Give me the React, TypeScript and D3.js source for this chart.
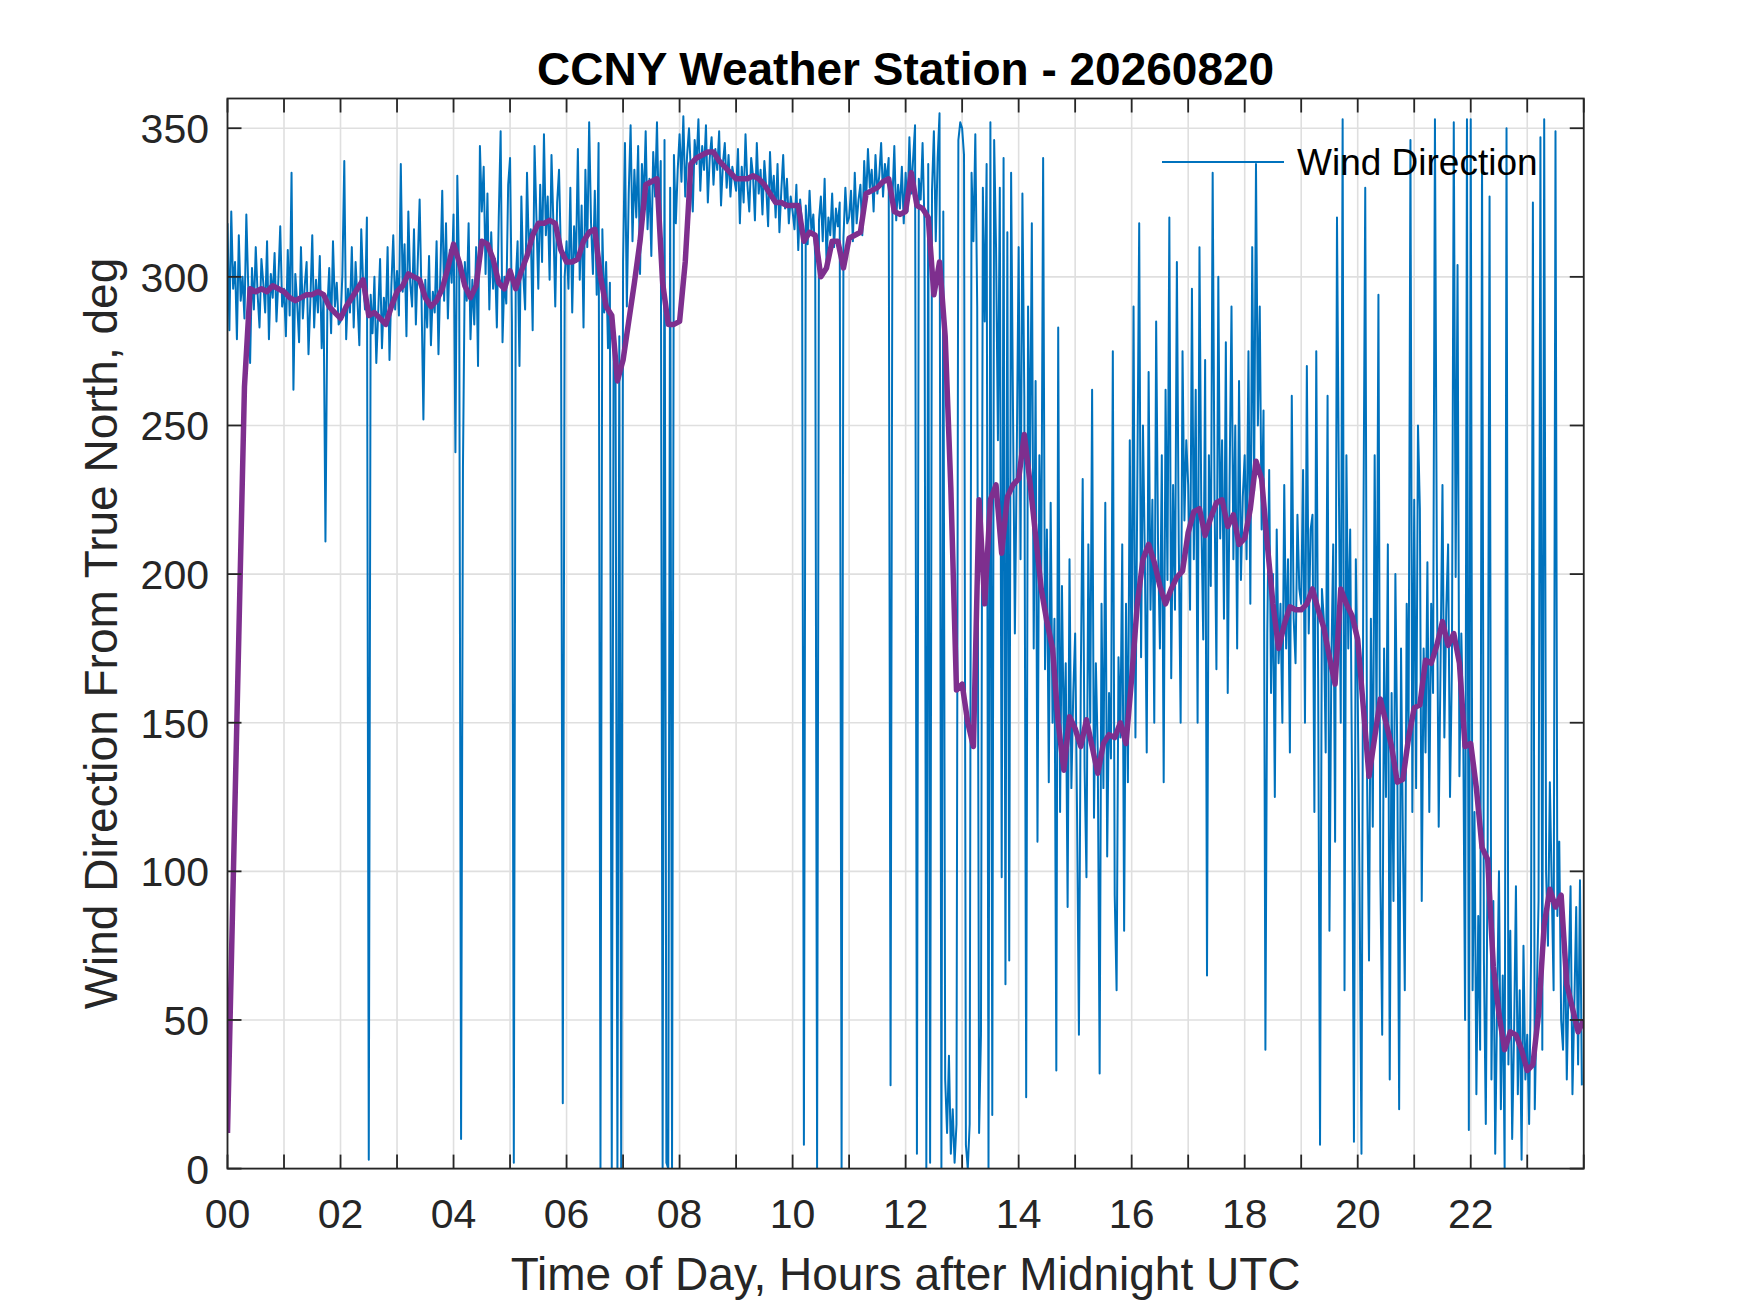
import * as d3 from "d3"

// Wind direction, one reading every 2 minutes (30 per hour), degrees from true north
const windNight = [
  318, 282, 322, 296, 305, 279, 314, 292, 300, 286, 321, 297, 271, 303, 289, 310, 294, 283, 306, 298, 288, 312, 279, 301, 293, 308, 285, 299, 317, 290,
  296, 280, 309, 287, 335, 262, 301, 291, 278, 310, 286, 297, 305, 274, 292, 314, 283, 299, 288, 307, 276, 294, 211, 289, 303, 281, 312, 290, 298, 284,
  285, 301, 339, 279, 296, 288, 310, 283, 305, 292, 277, 316, 298, 289, 320, 3, 294, 281, 300, 271, 288, 306, 276, 293, 285, 310, 272, 297, 314, 289,
  302, 287, 338, 295, 311, 280, 322, 298, 290, 316, 284, 305, 326, 293, 252, 299, 283, 307, 277, 295, 288, 312, 274, 301, 329, 292, 318, 286, 309, 298,
  321, 241, 334, 300, 10, 236, 305, 292, 318, 279, 299, 284, 310, 270, 344, 322, 337, 301, 328, 289, 315, 296, 306, 283, 320, 349, 278, 300, 291, 331,
  340, 285, 2, 298, 312, 270, 327, 301, 289, 335, 308, 316, 282, 344, 320, 296, 331, 305, 348, 314, 327, 299, 341, 318, 290, 325, 336, 307, 22, 300,
]
const windMorning = [
  312, 296, 330, 288, 317, 305, 343, 299, 324, 283, 336, 310, 352, 318, 301, 329, 294, 345, 0, 316, 288, 305, 276, 298, 0, 284, 268, 0, 280, 0,
  305, 345, 290, 328, 351, 312, 336, 320, 344, 301, 338, 325, 349, 316, 333, 307, 342, 327, 352, 319, 339, 0, 346, 2, 0, 330, 0, 341, 318, 336,
  348, 332, 354, 327, 341, 350, 335, 322, 346, 338, 353, 329, 344, 336, 351, 325, 340, 347, 331, 343, 336, 349, 324, 338, 345, 330, 341, 327, 337, 333,
  329, 343, 318, 337, 325, 348, 331, 322, 340, 334, 319, 345, 328, 336, 321, 339, 330, 317, 342, 326, 334, 320, 338, 315, 329, 341, 323, 333, 318, 327,
  322, 316, 331, 309, 326, 318, 8, 324, 311, 329, 315, 321, 307, 0, 319, 327, 312, 333, 305, 320, 314, 328, 310, 323, 317, 325, 0, 313, 330, 318,
  320, 329, 312, 335, 318, 326, 331, 314, 339, 325, 343, 330, 336, 322, 341, 328, 334, 345, 327, 338, 332, 340, 28, 326, 344, 319, 331, 323, 337, 318,
]
const windAfternoon = [
  335, 322, 347, 328, 340, 351, 5, 333, 326, 345, 318, 0, 338, 2, 329, 349, 312, 340, 355, 0, 322, 30, 12, 38, 5, 20, 2, 15, 346, 352,
  350, 341, 8, 0, 15, 335, 312, 348, 290, 12, 45, 330, 285, 338, 0, 352, 18, 346, 310, 245, 330, 98, 340, 62, 315, 70, 335, 255, 180, 240,
  310, 205, 328, 260, 24, 290, 232, 318, 175, 265, 110, 240, 195, 340, 168, 215, 130, 224, 150, 185, 33, 283, 120, 196, 142, 170, 88, 205, 128, 160,
  180, 120, 45, 165, 232, 135, 98, 210, 150, 262, 118, 170, 140, 32, 190, 128, 224, 105, 160, 138, 275, 92, 60, 172, 145, 210, 80, 190, 130, 245,
  160, 290, 145, 230, 318, 172, 250, 205, 140, 268, 188, 225, 150, 285, 210, 175, 240, 130, 262, 198, 320, 165, 230, 188, 305, 210, 150, 275, 218, 245,
  230, 188, 296, 205, 262, 150, 310, 218, 178, 272, 65, 240, 196, 335, 225, 168, 300, 212, 245, 185, 278, 160, 232, 290, 205, 250, 175, 265, 198, 226,
]
const windEvening = [
  240, 205, 275, 190, 310, 228, 338, 250, 290, 215, 255, 40, 180, 235, 160, 200, 125, 215, 170, 190, 150, 230, 175, 205, 140, 260, 185, 170, 220, 195,
  190, 235, 150, 270, 180, 215, 220, 120, 275, 165, 8, 195, 185, 140, 260, 80, 170, 210, 110, 320, 230, 150, 353, 60, 240, 175, 215, 130, 9, 205,
  160, 95, 5, 210, 330, 130, 70, 185, 115, 240, 150, 294, 100, 45, 175, 125, 210, 30, 160, 90, 200, 140, 20, 175, 110, 60, 190, 145, 346, 120,
  225, 128, 250, 222, 90, 175, 140, 204, 120, 190, 160, 353, 205, 115, 171, 230, 145, 188, 210, 125, 168, 352, 199, 304, 132, 180, 150, 50, 353, 13,
  353, 60, 120, 25, 85, 40, 341, 70, 15, 110, 327, 30, 90, 5, 55, 100, 20, 65, 0, 350, 35, 80, 10, 45, 95, 25, 60, 3, 75, 30,
  45, 15, 70, 325, 20, 55, 90, 347, 40, 353, 100, 75, 130, 95, 60, 349, 85, 110, 50, 40, 80, 30, 65, 95, 25, 55, 88, 35, 97, 28,
]

// Smoothed direction, every 0.1 hour from 00 to 24
const smoothedDirection = [
  12, 96, 179, 263, 296, 295, 296, 295, 297, 296,
  295, 293, 292, 293, 294, 294, 295, 294, 290, 288,
  286, 290, 293, 296, 299, 287, 288, 286, 284, 290,
  295, 297, 301, 300, 299, 293, 290, 292, 296, 303,
  311, 305, 297, 293, 297, 312, 311, 306, 298, 296,
  302, 296, 302, 307, 314, 318, 318, 319, 318, 309,
  305, 305, 306, 312, 315, 316, 300, 290, 287, 265,
  272, 285, 298, 312, 331, 332, 333, 298, 284, 284,
  285, 305, 338, 340, 341, 342, 342, 339, 337, 335,
  333, 333, 333, 334, 333, 331, 328, 325, 325, 324,
  324, 324, 312, 315, 314, 300, 303, 312, 312, 303,
  313, 314, 315, 328, 329, 330, 332, 333, 322, 321,
  322, 335, 324, 323, 320, 294, 305, 280, 229, 161,
  163, 150, 142, 225, 190, 225, 230, 207, 226, 230,
  232, 247, 231, 213, 195, 184, 175, 150, 134, 152,
  148, 142, 151, 142, 133, 143, 146, 145, 150, 143,
  165, 190, 205, 210, 204, 196, 190, 195, 199, 201,
  214, 221, 222, 213, 219, 224, 225, 216, 220, 210,
  212, 222, 238, 232, 210, 190, 175, 183, 189, 188,
  188, 190, 195, 188, 182, 172, 163, 195, 190, 186,
  178, 155, 132, 145, 158, 150, 142, 130, 131, 145,
  155, 156, 171, 170, 176, 184, 176, 180, 170, 142,
  143, 128, 108, 104, 68, 52, 40, 46, 45, 40,
  33, 35, 52, 82, 94, 88, 92, 62, 54, 46,
  50,
]

const hourTicks = d3.range(0, 25)
const hourLabels = ["00", "02", "04", "06", "08", "10", "12", "14", "16", "18", "20", "22"]
const degTicks = [0, 50, 100, 150, 200, 250, 300, 350]

const W = 1750
const H = 1313
const FONT = "'Liberation Sans', Arial, Helvetica, sans-serif"
const BLUE = "#0072BD"
const PURPLE = "#7E2F8E"
const AXIS = "#262626"

const App = () => {
  const left = 227.5
  const right = 1583.75
  const top = 98.5
  const bottom = 1168.6

  const x = d3.scaleLinear().domain([0, 24]).range([left, right])
  const y = d3.scaleLinear().domain([0, 360]).range([bottom, top])

  const wind = [...windNight, ...windMorning, ...windAfternoon, ...windEvening]
  const windPts: [number, number][] = wind.map((d, i) => [(i * 24) / wind.length, d])
  const smoothPts: [number, number][] = smoothedDirection.map((d, i) => [
    (i * 24) / (smoothedDirection.length - 1),
    d,
  ])

  const line = d3
    .line<[number, number]>()
    .x(d => x(d[0]))
    .y(d => y(d[1]))

  const tickLen = 14

  return (
    <svg
      width={W}
      height={H}
      style={{ position: "absolute", left: 0, top: 0, background: "#fff" }}
      fontFamily={FONT}
    >
      <rect width={W} height={H} fill="#fff" />
      <defs>
        <clipPath id="plot-area">
          <rect x={left} y={top} width={right - left} height={bottom - top} />
        </clipPath>
      </defs>

      {/* grid */}
      <g stroke="#dfdfdf" strokeWidth={1.6}>
        {hourTicks.map(h => (
          <line key={"gx" + h} x1={x(h)} x2={x(h)} y1={top} y2={bottom} />
        ))}
        {degTicks.map(v => (
          <line key={"gy" + v} x1={left} x2={right} y1={y(v)} y2={y(v)} />
        ))}
      </g>

      {/* data */}
      <g clipPath="url(#plot-area)">
        <path
          d={line(windPts) ?? ""}
          fill="none"
          stroke={BLUE}
          strokeWidth={2}
          strokeLinejoin="round"
        />
        <path
          d={line(smoothPts) ?? ""}
          fill="none"
          stroke={PURPLE}
          strokeWidth={5.5}
          strokeLinejoin="round"
        />
      </g>

      {/* axes box and ticks */}
      <g stroke={AXIS} strokeWidth={1.8} fill="none">
        <rect x={left} y={top} width={right - left} height={bottom - top} />
        {hourTicks.map(h => (
          <g key={"tx" + h}>
            <line x1={x(h)} x2={x(h)} y1={bottom} y2={bottom - tickLen} />
            <line x1={x(h)} x2={x(h)} y1={top} y2={top + tickLen} />
          </g>
        ))}
        {degTicks.map(v => (
          <g key={"ty" + v}>
            <line x1={left} x2={left + tickLen} y1={y(v)} y2={y(v)} />
            <line x1={right} x2={right - tickLen} y1={y(v)} y2={y(v)} />
          </g>
        ))}
      </g>

      {/* tick labels */}
      <g fill={AXIS} fontSize={41}>
        {hourLabels.map(lbl => (
          <text key={"lx" + lbl} x={x(+lbl)} y={1228} textAnchor="middle">
            {lbl}
          </text>
        ))}
        {degTicks.map(v => (
          <text key={"ly" + v} x={209} y={y(v) + 15} textAnchor="end">
            {v}
          </text>
        ))}
      </g>

      {/* axis labels and title */}
      <text
        x={(left + right) / 2}
        y={1290}
        textAnchor="middle"
        fontSize={46}
        fill={AXIS}
      >
        Time of Day, Hours after Midnight UTC
      </text>
      <text
        transform={`translate(117,${(top + bottom) / 2}) rotate(-90)`}
        textAnchor="middle"
        fontSize={46}
        fill={AXIS}
      >
        Wind Direction From True North, deg
      </text>
      <text
        x={(left + right) / 2}
        y={85}
        textAnchor="middle"
        fontSize={46}
        fontWeight="bold"
        fill="#000"
      >
        CCNY Weather Station - 20260820
      </text>

      {/* legend */}
      <line x1={1162} x2={1284} y1={162} y2={162} stroke={BLUE} strokeWidth={2} />
      <text x={1297} y={175} fontSize={37} fill="#000">
        Wind Direction
      </text>
    </svg>
  )
}

export default App
